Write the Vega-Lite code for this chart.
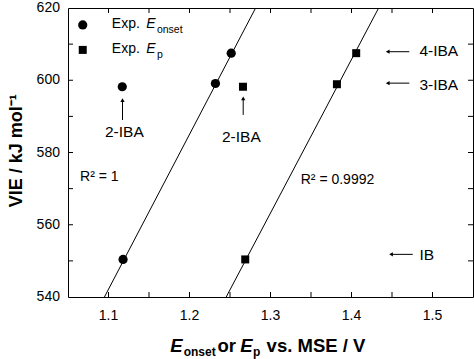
{
  "$schema": "https://vega.github.io/schema/vega-lite/v6.json",
  "width": 405,
  "height": 289,
  "autosize": {"type": "none"},
  "padding": {"left": 68, "top": 8, "right": 1, "bottom": 62},
  "background": "white",
  "config": {
    "font": "Liberation Sans",
    "view": {"stroke": "black", "strokeWidth": 1},
    "text": {"font": "Liberation Sans", "color": "black", "baseline": "alphabetic", "align": "left"}
  },
  "datasets": {
    "pts": [
      {"E": 1.118, "VIE": 550.4, "type": "onset"},
      {"E": 1.117, "VIE": 598.2, "type": "onset"},
      {"E": 1.232, "VIE": 599.1, "type": "onset"},
      {"E": 1.2515, "VIE": 607.5, "type": "onset"},
      {"E": 1.2688, "VIE": 550.4, "type": "peak"},
      {"E": 1.266, "VIE": 598.2, "type": "peak"},
      {"E": 1.382, "VIE": 598.9, "type": "peak"},
      {"E": 1.4058, "VIE": 607.5, "type": "peak"}
    ],
    "fits": [
      {"E": 1.095, "VIE": 540, "fit": "onset"},
      {"E": 1.2816, "VIE": 620, "fit": "onset"},
      {"E": 1.2453, "VIE": 540, "fit": "peak"},
      {"E": 1.4335, "VIE": 620, "fit": "peak"}
    ],
    "xTicks": [
      {"E": 1.1, "VIE": 540}, {"E": 1.15, "VIE": 540}, {"E": 1.2, "VIE": 540}, {"E": 1.25, "VIE": 540}, {"E": 1.3, "VIE": 540},
      {"E": 1.35, "VIE": 540}, {"E": 1.4, "VIE": 540}, {"E": 1.45, "VIE": 540}, {"E": 1.5, "VIE": 540},
      {"E": 1.1, "VIE": 620}, {"E": 1.15, "VIE": 620}, {"E": 1.2, "VIE": 620}, {"E": 1.25, "VIE": 620}, {"E": 1.3, "VIE": 620},
      {"E": 1.35, "VIE": 620}, {"E": 1.4, "VIE": 620}, {"E": 1.45, "VIE": 620}, {"E": 1.5, "VIE": 620}
    ],
    "yTicks": [
      {"E": 1.05, "VIE": 550}, {"E": 1.05, "VIE": 560}, {"E": 1.05, "VIE": 570}, {"E": 1.05, "VIE": 580},
      {"E": 1.05, "VIE": 590}, {"E": 1.05, "VIE": 600}, {"E": 1.05, "VIE": 610},
      {"E": 1.55, "VIE": 550}, {"E": 1.55, "VIE": 560}, {"E": 1.55, "VIE": 570}, {"E": 1.55, "VIE": 580},
      {"E": 1.55, "VIE": 590}, {"E": 1.55, "VIE": 600}, {"E": 1.55, "VIE": 610}
    ],
    "xLabels": [
      {"E": 1.1, "VIE": 536.7, "t": "1.1"}, {"E": 1.2, "VIE": 536.7, "t": "1.2"}, {"E": 1.3, "VIE": 536.7, "t": "1.3"},
      {"E": 1.4, "VIE": 536.7, "t": "1.4"}, {"E": 1.5, "VIE": 536.7, "t": "1.5"}
    ],
    "yLabels": [
      {"E": 1.0401, "VIE": 540, "t": "540"}, {"E": 1.0401, "VIE": 560, "t": "560"}, {"E": 1.0401, "VIE": 580, "t": "580"},
      {"E": 1.0401, "VIE": 600, "t": "600"}, {"E": 1.0401, "VIE": 620, "t": "620"}
    ],
    "yTitle": [
      {"E": 0.9866, "VIE": 580.5, "t": "VIE / kJ mol⁻¹"}
    ],
    "legendMarks": [
      {"E": 1.0682, "VIE": 615.3, "type": "onset"},
      {"E": 1.0682, "VIE": 608.4, "type": "peak"}
    ],
    "legendText": [
      {"E": 1.1041, "VIE": 614.38, "t": "Exp."},
      {"E": 1.1041, "VIE": 607.46, "t": "Exp."}
    ],
    "legendE": [
      {"E": 1.1466, "VIE": 614.38, "t": "E"},
      {"E": 1.1466, "VIE": 607.46, "t": "E"}
    ],
    "legendSub": [
      {"E": 1.1598, "VIE": 613.1, "t": "onset"},
      {"E": 1.1598, "VIE": 606.2, "t": "p"}
    ],
    "rightLabels": [
      {"E": 1.4838, "VIE": 606.7, "t": "4-IBA"},
      {"E": 1.4838, "VIE": 597.3, "t": "3-IBA"},
      {"E": 1.4838, "VIE": 550.2, "t": "IB"}
    ],
    "centerLabels": [
      {"E": 1.1196, "VIE": 584.4, "t": "2-IBA"},
      {"E": 1.264, "VIE": 583.0, "t": "2-IBA"}
    ],
    "r2": [
      {"E": 1.0649, "VIE": 572.1, "t": "R² = 1"},
      {"E": 1.3373, "VIE": 571.2, "t": "R² = 0.9992"}
    ],
    "arrowsUp": [
      {"E": 1.1173, "VIE": 589.0, "E2": 1.1173, "VIE2": 594.5},
      {"E": 1.2663, "VIE": 590.4, "E2": 1.2663, "VIE2": 595.0}
    ],
    "headsUp": [
      {"E": 1.1173, "VIE": 594.5},
      {"E": 1.2663, "VIE": 595.0}
    ],
    "arrowsLeft": [
      {"E": 1.4447, "VIE": 607.9, "E2": 1.4714, "VIE2": 607.9},
      {"E": 1.4447, "VIE": 599.2, "E2": 1.4714, "VIE2": 599.2},
      {"E": 1.4488, "VIE": 551.8, "E2": 1.4756, "VIE2": 551.8}
    ],
    "titleMain": [
      {"E": 1.2345, "VIE": 524.86, "t": "or"},
      {"E": 1.2952, "VIE": 524.86, "t": "vs. MSE / V"}
    ],
    "titleE": [
      {"E": 1.1763, "VIE": 524.86, "t": "E"},
      {"E": 1.2627, "VIE": 524.86, "t": "E"}
    ],
    "titleSub": [
      {"E": 1.1928, "VIE": 523.6, "t": "onset"},
      {"E": 1.2785, "VIE": 523.6, "t": "p"}
    ]
  },
  "encoding": {
    "x": {"field": "E", "type": "quantitative", "scale": {"domain": [1.05, 1.55], "nice": false, "zero": false}, "axis": null},
    "y": {"field": "VIE", "type": "quantitative", "scale": {"domain": [540, 620], "nice": false, "zero": false}, "axis": null}
  },
  "layer": [
    {
      "data": {"name": "pts"},
      "mark": {"type": "point", "filled": true, "opacity": 1, "color": "black"},
      "encoding": {
        "shape": {"field": "type", "type": "nominal", "scale": {"domain": ["onset", "peak"], "range": ["circle", "square"]}, "legend": null},
        "size": {"field": "type", "type": "nominal", "scale": {"domain": ["onset", "peak"], "range": [85, 64]}, "legend": null}
      }
    },
    {
      "data": {"name": "fits"},
      "mark": {"type": "line", "color": "black", "strokeWidth": 1, "clip": true},
      "encoding": {"detail": {"field": "fit"}}
    },
    {
      "data": {"name": "xTicks"},
      "mark": {"type": "tick", "orient": "vertical", "color": "black", "opacity": 1, "size": 10, "thickness": 1, "clip": true},
      "encoding": {}
    },
    {
      "data": {"name": "yTicks"},
      "mark": {"type": "tick", "orient": "horizontal", "color": "black", "opacity": 1, "size": 10, "thickness": 1, "clip": true},
      "encoding": {}
    },
    {
      "data": {"name": "xLabels"},
      "mark": {"type": "text", "fontSize": 14, "align": "center", "baseline": "top", "clip": false},
      "encoding": {"text": {"field": "t"}}
    },
    {
      "data": {"name": "yLabels"},
      "mark": {"type": "text", "fontSize": 14, "align": "right", "baseline": "middle", "clip": false},
      "encoding": {"text": {"field": "t"}}
    },
    {
      "data": {"name": "yTitle"},
      "mark": {"type": "text", "fontSize": 18, "fontWeight": "bold", "align": "center", "baseline": "middle", "angle": 270, "clip": false},
      "encoding": {"text": {"field": "t"}}
    },
    {
      "data": {"name": "legendMarks"},
      "mark": {"type": "point", "filled": true, "opacity": 1, "color": "black"},
      "encoding": {
        "shape": {"field": "type", "type": "nominal", "scale": {"domain": ["onset", "peak"], "range": ["circle", "square"]}, "legend": null},
        "size": {"field": "type", "type": "nominal", "scale": {"domain": ["onset", "peak"], "range": [85, 64]}, "legend": null}
      }
    },
    {
      "data": {"name": "legendText"},
      "mark": {"type": "text", "fontSize": 14},
      "encoding": {"text": {"field": "t"}}
    },
    {
      "data": {"name": "legendE"},
      "mark": {"type": "text", "fontSize": 14, "fontStyle": "italic"},
      "encoding": {"text": {"field": "t"}}
    },
    {
      "data": {"name": "legendSub"},
      "mark": {"type": "text", "fontSize": 10.5},
      "encoding": {"text": {"field": "t"}}
    },
    {
      "data": {"name": "rightLabels"},
      "mark": {"type": "text", "fontSize": 15.5},
      "encoding": {"text": {"field": "t"}}
    },
    {
      "data": {"name": "centerLabels"},
      "mark": {"type": "text", "fontSize": 15.5, "align": "center"},
      "encoding": {"text": {"field": "t"}}
    },
    {
      "data": {"name": "r2"},
      "mark": {"type": "text", "fontSize": 14},
      "encoding": {"text": {"field": "t"}}
    },
    {
      "data": {"name": "arrowsUp"},
      "mark": {"type": "rule", "color": "black", "strokeWidth": 1},
      "encoding": {"x2": {"field": "E2"}, "y2": {"field": "VIE2"}}
    },
    {
      "data": {"name": "headsUp"},
      "mark": {"type": "point", "shape": "triangle-up", "filled": true, "opacity": 1, "color": "black", "size": 18},
      "encoding": {}
    },
    {
      "data": {"name": "arrowsLeft"},
      "mark": {"type": "rule", "color": "black", "strokeWidth": 1},
      "encoding": {"x2": {"field": "E2"}, "y2": {"field": "VIE2"}}
    },
    {
      "data": {"name": "arrowsLeft"},
      "mark": {"type": "point", "shape": "triangle-left", "filled": true, "opacity": 1, "color": "black", "size": 18},
      "encoding": {}
    },
    {
      "data": {"name": "titleMain"},
      "mark": {"type": "text", "fontSize": 18.5, "fontWeight": "bold", "clip": false},
      "encoding": {"text": {"field": "t"}}
    },
    {
      "data": {"name": "titleE"},
      "mark": {"type": "text", "fontSize": 18.5, "fontWeight": "bold", "fontStyle": "italic", "clip": false},
      "encoding": {"text": {"field": "t"}}
    },
    {
      "data": {"name": "titleSub"},
      "mark": {"type": "text", "fontSize": 12, "fontWeight": "bold", "clip": false},
      "encoding": {"text": {"field": "t"}}
    }
  ]
}
